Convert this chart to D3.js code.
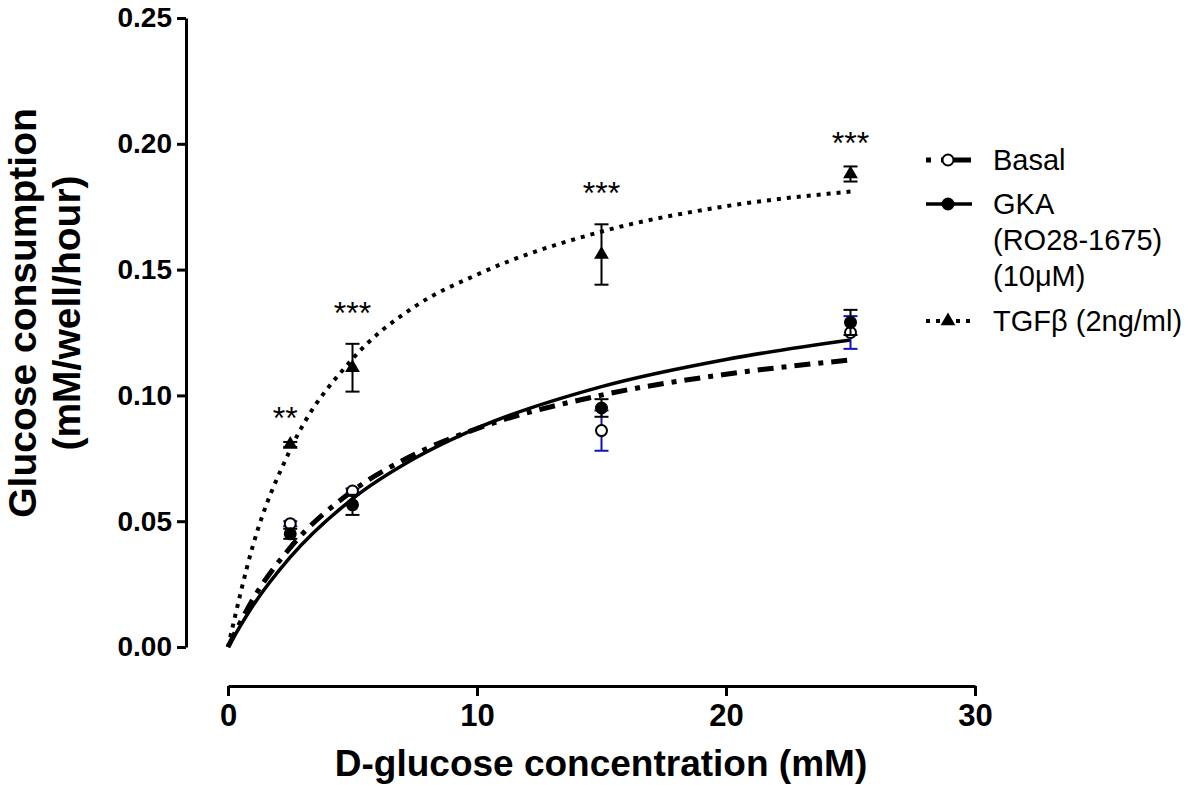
<!DOCTYPE html>
<html>
<head>
<meta charset="utf-8" />
<title>Glucose consumption</title>
<style>
html, body {
    margin: 0px;
    padding: 0px;
    background: #fff;
}
svg { display: block; }
.axis path, .axis line {
    stroke: #000;
    stroke-width: 3;
}
.axis text {
    font-family: "Liberation Sans", Arial, sans-serif;
    font-weight: bold;
    fill: #000;
}
.xaxis text {
    font-family: "Liberation Sans Narrow", "Liberation Sans", Arial, sans-serif;
}
</style>
</head>
<body>
<div id="chart"></div>
<script src="https://cdnjs.cloudflare.com/ajax/libs/d3/7.8.5/d3.min.js"></script>
<script>
!(function(){
    "use strict"

    // measured points (mean, sem) at each D-glucose concentration
    var conc = [2.5, 5, 15, 25];
    var basalMean = [0.049, 0.062, 0.086, 0.125];
    var basalSem  = [0.001, 0.001, 0.008, 0.0065];
    var gkaMean   = [0.045, 0.0565, 0.095, 0.129];
    var gkaSem    = [0.002, 0.004, 0.0035, 0.005];
    var tgfMean   = [0.0805, 0.111, 0.156, 0.188];
    var tgfSem    = [0.001, 0.0095, 0.012, 0.003];

    // fitted curves
    var fitX      = [0, 1, 2.5, 5, 7.5, 10, 15, 20, 25];
    var basalFit  = [0, 0.019, 0.0395, 0.062, 0.0766, 0.0868, 0.1001, 0.1084, 0.1141];
    var gkaFit    = [0, 0.0164, 0.0357, 0.0589, 0.075, 0.087, 0.1035, 0.1143, 0.122];
    var tgfFit    = [0, 0.0403, 0.0784, 0.1145, 0.1353, 0.148, 0.1651, 0.1752, 0.181];

    // significance marks (TGF vs basal) and the level where they sit
    var sigLabels = ["**", "***", "***", "***"];
    var sigLevel  = [0.0934, 0.1351, 0.1828, 0.2027];

    var xTicks = [0, 10, 20, 30];
    var yTicks = [0, 0.05, 0.10, 0.15, 0.20, 0.25];

    var legendNames = [["Basal"], ["GKA", "(RO28-1675)", "(10\u03BCM)"], ["TGF\u03B2 (2ng/ml)"]];

    var W = 1200, H = 785;
    var svg = d3.select("#chart").append("svg")
        .attr("width", W).attr("height", H);

    var x = d3.scaleLinear().domain([0, 30]).range([228, 975]);
    var y = d3.scaleLinear().domain([0, 0.25]).range([647, 18]);

    // axes, GraphPad style (detached)
    var yAxis = svg.append("g")
        .attr("class", "axis")
        .attr("transform", "translate(186,0)")
        .call(d3.axisLeft(y).tickValues(yTicks).tickFormat(d3.format(".2f"))
            .tickSize(9).tickSizeOuter(0).tickPadding(5));
    yAxis.selectAll("text").style("font-size", "28px");

    var xAxis = svg.append("g")
        .attr("class", "axis xaxis")
        .attr("transform", "translate(0,686)")
        .call(d3.axisBottom(x).tickValues(xTicks).tickFormat(d3.format("d"))
            .tickSize(10).tickSizeOuter(0).tickPadding(8));
    xAxis.selectAll("text").style("font-size", "31px");

    svg.append("text")
        .attr("x", 601).attr("y", 776)
        .attr("text-anchor", "middle")
        .style("font-family", "'Liberation Sans', Arial, sans-serif")
        .style("font-weight", "bold")
        .style("font-size", "37px")
        .text("D-glucose concentration (mM)");

    var yt = svg.append("text")
        .attr("transform", "translate(0,313) rotate(-90)")
        .attr("text-anchor", "middle")
        .style("font-family", "'Liberation Sans', Arial, sans-serif")
        .style("font-weight", "bold")
        .style("font-size", "39px");
    yt.append("tspan").attr("x", 0).attr("y", 36).text("Glucose consumption");
    yt.append("tspan").attr("x", 0).attr("y", 80).text("(mM/well/hour)");

    // curves
    var line = d3.line()
        .x(function(d){ return x(d[0]); })
        .y(function(d){ return y(d[1]); })
        .curve(d3.curveMonotoneX);

    var series = [
        {fit: basalFit, mean: basalMean, sem: basalSem, dash: "16,8,5,8", width: 5, bar: "#1010c0", marker: "open"},
        {fit: gkaFit, mean: gkaMean, sem: gkaSem, dash: null, width: 3.5, bar: "#000", marker: "filled"},
        {fit: tgfFit, mean: tgfMean, sem: tgfSem, dash: "4,6", width: 4, bar: "#000", marker: "tri"}
    ];

    series.forEach(function(s){
        svg.append("path")
            .datum(fitX.map(function(v, i){ return [v, s.fit[i]]; }))
            .attr("d", line)
            .attr("fill", "none")
            .attr("stroke", "#000")
            .attr("stroke-width", s.width)
            .attr("stroke-dasharray", s.dash);
    });

    var tri = d3.symbol().type(d3.symbolTriangle).size(95);

    function drawMarker(g, kind, cx, cy) {
        if (kind === "tri") {
            g.append("path").attr("d", tri)
                .attr("transform", "translate(" + cx + "," + cy + ")")
                .attr("fill", "#000");
        } else {
            g.append("circle").attr("cx", cx).attr("cy", cy).attr("r", 5.5)
                .attr("fill", kind === "open" ? "#fff" : "#000")
                .attr("stroke", "#000").attr("stroke-width", 2);
        }
    }

    series.forEach(function(s){
        var g = svg.append("g");
        conc.forEach(function(c, i){
            var cx = x(c), top = y(s.mean[i] + s.sem[i]), bot = y(s.mean[i] - s.sem[i]);
            g.append("line").attr("x1", cx).attr("x2", cx).attr("y1", top).attr("y2", bot)
                .attr("stroke", s.bar).attr("stroke-width", 2);
            [top, bot].forEach(function(yy){
                g.append("line").attr("x1", cx - 7).attr("x2", cx + 7).attr("y1", yy).attr("y2", yy)
                    .attr("stroke", s.bar).attr("stroke-width", 2);
            });
        });
        conc.forEach(function(c, i){
            drawMarker(g, s.marker, x(c), y(s.mean[i]));
        });
    });

    // significance stars above TGF points
    svg.selectAll(".sig")
        .data(sigLabels)
        .enter().append("text")
        .attr("class", "sig")
        .attr("x", function(d, i){ return x(conc[i]) - (i === 0 ? 5 : 0); })
        .attr("y", function(d, i){ return y(sigLevel[i]) + 17; })
        .attr("text-anchor", "middle")
        .style("font-family", "'Liberation Sans', Arial, sans-serif")
        .style("font-size", "32px")
        .text(function(d){ return d; });

    // legend
    var legY = [160, 204, 321];
    var legDash = ["5,10,30", null, "4,6"];
    var legWidth = [5, 3.5, 4];
    var legMarker = ["open", "filled", "tri"];
    legY.forEach(function(ly, i){
        var g = svg.append("g");
        g.append("line").attr("x1", 926).attr("x2", 972).attr("y1", ly).attr("y2", ly)
            .attr("stroke", "#000").attr("stroke-width", legWidth[i])
            .attr("stroke-dasharray", legDash[i]);
        drawMarker(g, legMarker[i], 948, ly);
        var t = g.append("text")
            .attr("x", 993).attr("y", ly + 10)
            .style("font-family", "'Liberation Sans', Arial, sans-serif")
            .style("font-size", "29px");
        legendNames[i].forEach(function(n, k){
            t.append("tspan").attr("x", 993).attr("dy", k === 0 ? 0 : 36).text(n);
        });
    });
}());
</script>
</body>
</html>
